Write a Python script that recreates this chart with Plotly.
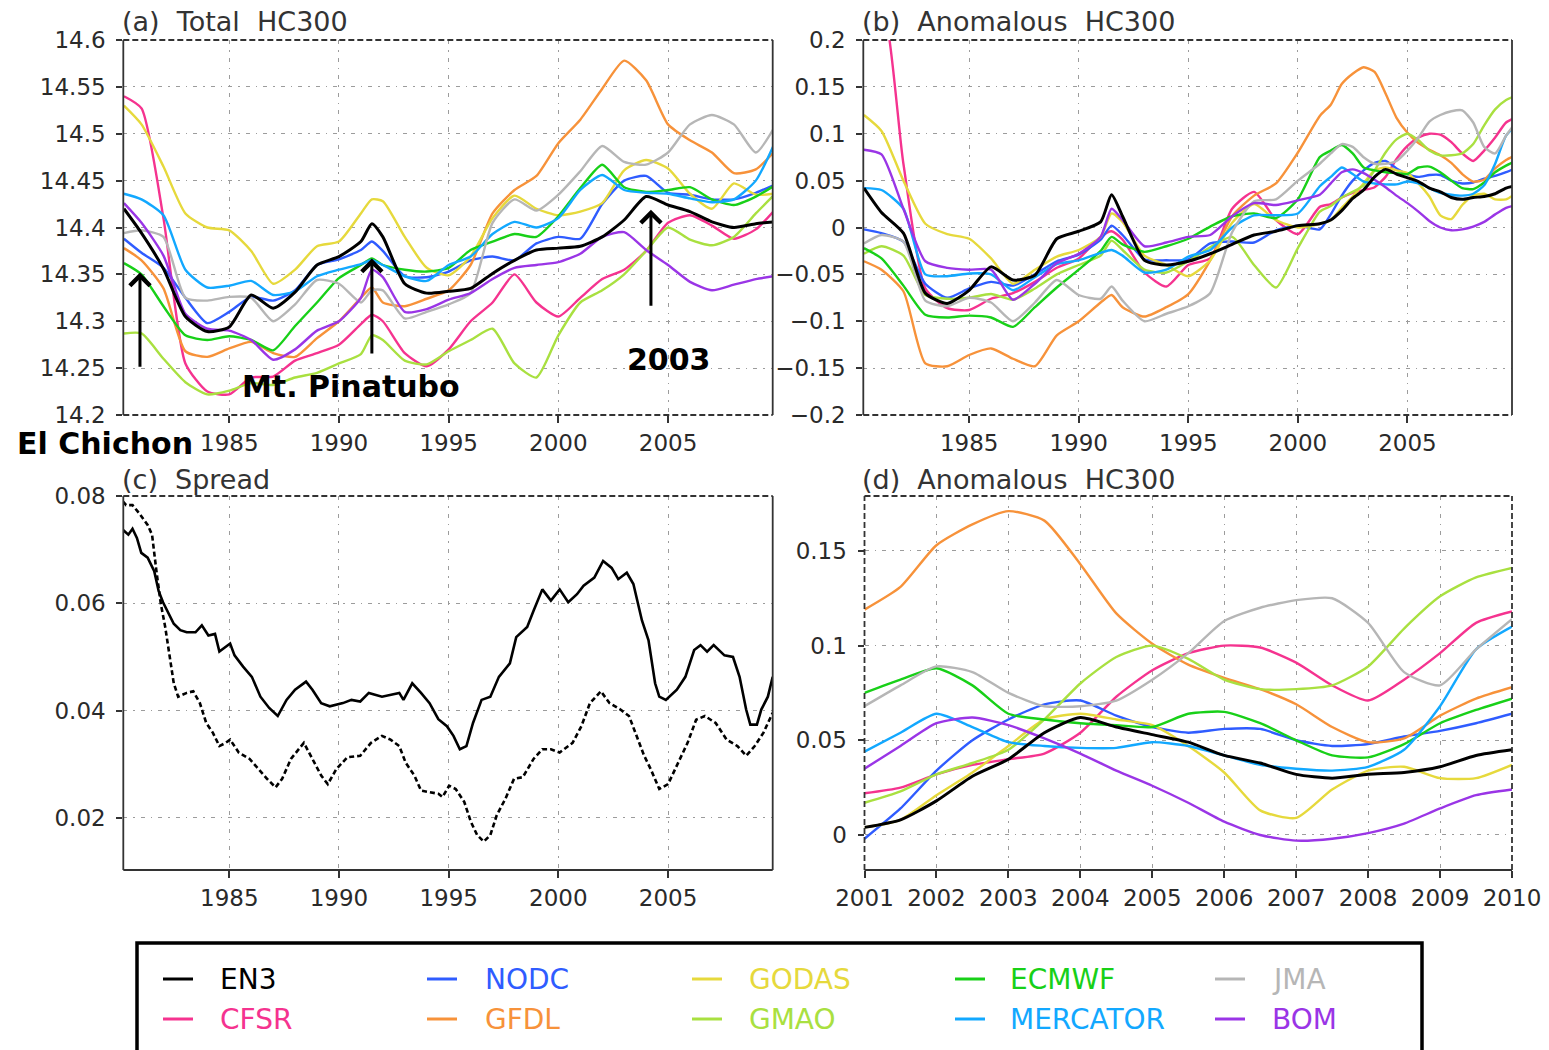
import plotly.graph_objects as go

# ---------------- data ----------------
PRODUCTS = ["EN3", "CFSR", "NODC", "GFDL", "GODAS", "GMAO", "ECMWF", "MERCATOR", "JMA", "BOM"]
COLORS = {
    "EN3": "#000000", "CFSR": "#f5338f", "NODC": "#2f5cff", "GFDL": "#f7923a",
    "GODAS": "#e6d93c", "GMAO": "#a9e040", "ECMWF": "#18d018", "MERCATOR": "#12a8ff",
    "JMA": "#b6b6b6", "BOM": "#9a35e6",
}

# (a) Total HC300
YEARS_A = [1980.2, 1981, 1982, 1983, 1984, 1985, 1986, 1987, 1988, 1989, 1990,
           1991, 1991.5, 1992, 1993, 1994, 1995, 1996, 1997, 1998, 1999, 2000,
           2001, 2002, 2003, 2004, 2005, 2006, 2007, 2008, 2009, 2009.8]
TOTAL = {
    "EN3": [14.42, 14.394, 14.356, 14.305, 14.289, 14.294, 14.328, 14.314, 14.331, 14.36, 14.369,
            14.385, 14.404, 14.39, 14.34, 14.33, 14.332, 14.335, 14.351, 14.365, 14.376, 14.378,
            14.38, 14.39, 14.408, 14.433, 14.424, 14.417, 14.406, 14.40, 14.404, 14.406],
    "CFSR": [14.54, 14.527, 14.41, 14.255, 14.225, 14.222, 14.24, 14.241, 14.258, 14.266, 14.275,
             14.297, 14.307, 14.30, 14.266, 14.252, 14.27, 14.30, 14.32, 14.35, 14.32, 14.305,
             14.325, 14.345, 14.355, 14.375, 14.405, 14.413, 14.402, 14.388, 14.398, 14.417],
    "NODC": [14.388, 14.373, 14.357, 14.325, 14.298, 14.31, 14.326, 14.322, 14.333, 14.36, 14.366,
             14.376, 14.385, 14.375, 14.348, 14.347, 14.353, 14.365, 14.369, 14.365, 14.383, 14.39,
             14.388, 14.425, 14.45, 14.455, 14.437, 14.435, 14.43, 14.43, 14.437, 14.445],
    "GFDL": [14.378, 14.365, 14.335, 14.268, 14.262, 14.271, 14.278, 14.266, 14.262, 14.282, 14.30,
             14.325, 14.336, 14.32, 14.316, 14.324, 14.333, 14.36, 14.415, 14.44, 14.455, 14.49,
             14.515, 14.548, 14.578, 14.557, 14.51, 14.493, 14.48, 14.458, 14.462, 14.48],
    "GODAS": [14.53, 14.51, 14.465, 14.415, 14.40, 14.397, 14.375, 14.34, 14.355, 14.38, 14.385,
              14.415, 14.43, 14.428, 14.39, 14.357, 14.349, 14.369, 14.41, 14.434, 14.42, 14.413,
              14.417, 14.426, 14.461, 14.472, 14.463, 14.436, 14.42, 14.447, 14.435, 14.436],
    "GMAO": [14.287, 14.287, 14.26, 14.235, 14.222, 14.226, 14.234, 14.232, 14.24, 14.245, 14.255,
             14.265, 14.285, 14.28, 14.258, 14.254, 14.268, 14.28, 14.292, 14.255, 14.24, 14.285,
             14.32, 14.333, 14.35, 14.375, 14.40, 14.387, 14.381, 14.39, 14.415, 14.434],
    "ECMWF": [14.362, 14.35, 14.316, 14.285, 14.28, 14.284, 14.28, 14.269, 14.295, 14.32, 14.346,
              14.36, 14.367, 14.36, 14.355, 14.353, 14.357, 14.376, 14.385, 14.393, 14.39, 14.412,
              14.442, 14.467, 14.443, 14.438, 14.44, 14.443, 14.43, 14.424, 14.433, 14.444],
    "MERCATOR": [14.436, 14.43, 14.413, 14.355, 14.336, 14.338, 14.343, 14.328, 14.332, 14.348, 14.355,
                 14.361, 14.365, 14.36, 14.348, 14.343, 14.36, 14.369, 14.393, 14.406, 14.40, 14.41,
                 14.44, 14.456, 14.44, 14.437, 14.436, 14.431, 14.427, 14.43, 14.45, 14.487],
    "JMA": [14.394, 14.397, 14.39, 14.325, 14.322, 14.326, 14.325, 14.30, 14.318, 14.344, 14.34,
            14.32, 14.333, 14.333, 14.303, 14.31, 14.318, 14.33, 14.405, 14.43, 14.418, 14.435,
            14.46, 14.487, 14.47, 14.467, 14.48, 14.51, 14.52, 14.51, 14.48, 14.505],
    "BOM": [14.426, 14.405, 14.37, 14.308, 14.292, 14.29, 14.28, 14.259, 14.27, 14.29, 14.30,
            14.325, 14.355, 14.347, 14.31, 14.313, 14.323, 14.33, 14.345, 14.357, 14.36, 14.363,
            14.372, 14.39, 14.395, 14.376, 14.36, 14.342, 14.333, 14.339, 14.345, 14.348],
}

# (b) Anomalous HC300, 1980-2000 part
YEARS_B_EARLY = [1980.2, 1981, 1982, 1983, 1984, 1985, 1986, 1987, 1988, 1989, 1990,
                 1991, 1991.5, 1992, 1993, 1994, 1995, 1996, 1997, 1998, 1999, 2000]
ANOM_EARLY = {
    "EN3": [0.042, 0.016, -0.006, -0.07, -0.081, -0.067, -0.042, -0.056, -0.051, -0.012, -0.004,
            0.006, 0.035, 0.012, -0.035, -0.04, -0.036, -0.028, -0.018, -0.008, -0.004, 0.002],
    "CFSR": [0.25, 0.24, 0.068, -0.065, -0.086, -0.088, -0.076, -0.07, -0.058, -0.043, -0.033,
             -0.01, -0.004, -0.013, -0.048, -0.063, -0.04, -0.033, 0.02, 0.038, 0.008, -0.007],
    "NODC": [-0.002, -0.006, -0.015, -0.06, -0.075, -0.065, -0.058, -0.062, -0.05, -0.036, -0.029,
             -0.013, 0.002, -0.008, -0.034, -0.035, -0.034, -0.017, -0.015, -0.016, -0.003, 0.002],
    "GFDL": [-0.036, -0.045, -0.068, -0.145, -0.148, -0.136, -0.129, -0.14, -0.148, -0.115, -0.1,
             -0.08, -0.072, -0.085, -0.095, -0.085, -0.071, -0.035, 0.012, 0.034, 0.047, 0.08],
    "GODAS": [0.12, 0.103, 0.05, 0.004, -0.007, -0.012, -0.033, -0.06, -0.045, -0.031, -0.024,
              -0.01, 0.015, 0.006, -0.03, -0.04, -0.052, -0.035, 0.005, 0.025, 0.008, 0.0],
    "GMAO": [-0.028, -0.02, -0.03, -0.072, -0.076, -0.075, -0.071, -0.077, -0.065, -0.05, -0.04,
             -0.03, -0.014, -0.024, -0.045, -0.048, -0.036, -0.021, -0.01, -0.04, -0.064, -0.022],
    "ECMWF": [-0.022, -0.033, -0.062, -0.093, -0.096, -0.094, -0.096, -0.106, -0.085, -0.064, -0.045,
              -0.025, -0.01, -0.018, -0.026, -0.02, -0.012, 0.001, 0.012, 0.015, 0.01, 0.03],
    "MERCATOR": [0.042, 0.04, 0.02, -0.05, -0.052, -0.049, -0.05, -0.067, -0.053, -0.039, -0.035,
                 -0.027, -0.024, -0.03, -0.048, -0.045, -0.031, -0.024, 0.0, 0.013, 0.013, 0.015],
    "JMA": [-0.017, -0.008, -0.015, -0.078, -0.084, -0.075, -0.08, -0.1, -0.08, -0.056, -0.072,
            -0.076, -0.063, -0.078, -0.1, -0.092, -0.084, -0.07, -0.005, 0.028, 0.03, 0.05],
    "BOM": [0.083, 0.078, 0.02, -0.036, -0.043, -0.045, -0.045, -0.077, -0.06, -0.038, -0.028,
            -0.01, 0.02, 0.008, -0.02, -0.016, -0.01, -0.008, 0.012, 0.026, 0.024, 0.029],
}

# (d) Anomalous HC300, 2001-2010 (also continues panel b)
YEARS_D = [2001, 2001.5, 2002, 2002.5, 2003, 2003.5, 2004, 2004.5, 2005, 2005.5,
           2006, 2006.5, 2007, 2007.5, 2008, 2008.5, 2009, 2009.5, 2010]
ANOM_LATE = {
    "EN3": [0.004, 0.008, 0.018, 0.031, 0.04, 0.054, 0.062, 0.057, 0.053, 0.049,
            0.042, 0.038, 0.032, 0.03, 0.032, 0.033, 0.036, 0.042, 0.045],
    "CFSR": [0.022, 0.025, 0.032, 0.037, 0.04, 0.043, 0.054, 0.073, 0.087, 0.096,
             0.1, 0.099, 0.091, 0.079, 0.071, 0.082, 0.096, 0.112, 0.118],
    "NODC": [-0.002, 0.014, 0.034, 0.05, 0.061, 0.069, 0.071, 0.063, 0.057, 0.054,
             0.056, 0.056, 0.05, 0.047, 0.048, 0.052, 0.055, 0.059, 0.064],
    "GFDL": [0.119, 0.131, 0.153, 0.164, 0.171, 0.166, 0.143, 0.117, 0.101, 0.09,
             0.083, 0.077, 0.069, 0.057, 0.049, 0.051, 0.063, 0.072, 0.078],
    "GODAS": [0.004, 0.008, 0.021, 0.033, 0.047, 0.061, 0.064, 0.061, 0.058, 0.047,
              0.033, 0.013, 0.009, 0.024, 0.034, 0.036, 0.03, 0.03, 0.037],
    "GMAO": [0.017, 0.023, 0.032, 0.038, 0.045, 0.061, 0.08, 0.094, 0.1, 0.093,
             0.082, 0.077, 0.077, 0.079, 0.089, 0.109, 0.126, 0.136, 0.141],
    "ECMWF": [0.075, 0.082, 0.088, 0.079, 0.064, 0.061, 0.059, 0.058, 0.057, 0.064,
              0.065, 0.059, 0.05, 0.042, 0.041, 0.048, 0.059, 0.066, 0.072],
    "MERCATOR": [0.044, 0.054, 0.064, 0.057, 0.049, 0.047, 0.046, 0.046, 0.049, 0.047,
                 0.042, 0.037, 0.035, 0.034, 0.036, 0.045, 0.068, 0.098, 0.11],
    "JMA": [0.068, 0.079, 0.089, 0.086, 0.075, 0.068, 0.068, 0.071, 0.082, 0.096,
            0.113, 0.12, 0.124, 0.125, 0.112, 0.086, 0.079, 0.098, 0.114],
    "BOM": [0.035, 0.047, 0.059, 0.062, 0.058, 0.051, 0.043, 0.034, 0.026, 0.017,
            0.007, 0.0, -0.003, -0.002, 0.001, 0.006, 0.014, 0.021, 0.024],
}

# (c) Spread
SPREAD_SOLID_YEARS = [1980.15, 1980.4, 1980.59, 1980.79, 1980.99, 1981.28, 1981.58, 1981.78, 1981.98, 1982.17,
                      1982.47, 1982.77, 1983.06, 1983.46, 1983.75, 1984.05, 1984.35, 1984.55, 1984.84, 1985.04,
                      1985.24, 1985.63, 1986.03, 1986.42, 1986.82, 1987.21, 1987.61, 1988.0, 1988.5, 1988.79,
                      1989.19, 1989.58, 1990.18, 1990.57, 1990.97, 1991.36, 1991.96, 1992.75, 1992.94, 1993.34,
                      1993.74, 1994.13, 1994.53, 1994.92, 1995.22, 1995.51, 1995.81, 1996.11, 1996.5, 1996.9,
                      1997.29, 1997.79, 1998.08, 1998.58, 1998.87, 1999.27, 1999.66, 2000.06, 2000.45, 2000.85,
                      2001.15, 2001.64, 2002.04, 2002.43, 2002.73, 2003.12, 2003.42, 2003.81, 2004.11, 2004.41,
                      2004.6, 2004.9, 2005.4, 2005.79, 2006.19, 2006.48, 2006.78, 2007.08, 2007.57, 2007.96,
                      2008.26, 2008.56, 2008.75, 2009.05, 2009.25, 2009.55, 2009.77]
SPREAD_SOLID = [0.0737, 0.0728, 0.0739, 0.0722, 0.0694, 0.0685, 0.066, 0.0623, 0.0602, 0.0586,
                0.0562, 0.055, 0.0546, 0.0546, 0.0559, 0.054, 0.0543, 0.051, 0.0519, 0.0525,
                0.0503, 0.0482, 0.0463, 0.0426, 0.0405, 0.039, 0.042, 0.0439, 0.0454, 0.0439,
                0.0414, 0.0408, 0.0414, 0.042, 0.0417, 0.0433, 0.0426, 0.0433, 0.042, 0.0451,
                0.0433, 0.0414, 0.0384, 0.0371, 0.0353, 0.0328, 0.0334, 0.0377, 0.042, 0.0426,
                0.0463, 0.0488, 0.0537, 0.0556, 0.0586, 0.0626, 0.0605, 0.0626, 0.0602, 0.0617,
                0.0633, 0.0648, 0.0679, 0.0666, 0.0645, 0.0657, 0.0636, 0.0568, 0.0531, 0.0451,
                0.0426, 0.042, 0.0439, 0.0463, 0.0513, 0.0522, 0.051, 0.0522, 0.0503, 0.05,
                0.0463, 0.0402, 0.0374, 0.0374, 0.0402, 0.0426, 0.0463]
SPREAD_DASH_YEARS = [1980.15, 1980.3, 1980.59, 1980.89, 1981.28, 1981.48, 1981.68, 1981.88, 1982.08, 1982.27,
                     1982.47, 1982.67, 1983.06, 1983.36, 1983.66, 1983.95, 1984.25, 1984.55, 1984.84, 1985.04,
                     1985.43, 1985.93, 1986.32, 1986.72, 1987.11, 1987.41, 1987.81, 1988.4, 1988.79, 1989.19,
                     1989.49, 1989.88, 1990.38, 1990.97, 1991.46, 1991.96, 1992.35, 1992.75, 1993.04, 1993.44,
                     1993.74, 1994.13, 1994.53, 1994.72, 1995.02, 1995.32, 1995.71, 1996.01, 1996.3, 1996.6,
                     1996.9, 1997.19, 1997.59, 1997.98, 1998.38, 1998.87, 1999.27, 1999.66, 2000.06, 2000.65,
                     2001.05, 2001.44, 2001.94, 2002.33, 2002.83, 2003.22, 2003.52, 2003.91, 2004.21, 2004.6,
                     2005.0, 2005.4, 2005.89, 2006.28, 2006.68, 2007.17, 2007.67, 2008.16, 2008.56, 2008.95,
                     2009.35, 2009.77]
SPREAD_DASH = [0.079, 0.0783, 0.0783, 0.0768, 0.0746, 0.0728, 0.066, 0.0599, 0.0556, 0.05,
               0.0451, 0.0426, 0.0433, 0.0436, 0.0414, 0.0377, 0.0359, 0.0334, 0.034, 0.0346,
               0.0322, 0.031, 0.0291, 0.0273, 0.0257, 0.0273, 0.031, 0.034, 0.031, 0.0279,
               0.0263, 0.0291, 0.0313, 0.0316, 0.034, 0.0353, 0.0346, 0.0334, 0.0303, 0.0279,
               0.0251, 0.0248, 0.0245, 0.0239, 0.026, 0.0254, 0.023, 0.0193, 0.0168, 0.0156,
               0.0168, 0.0205, 0.0236, 0.0273, 0.0276, 0.031, 0.0328, 0.0328, 0.0322, 0.034,
               0.0371, 0.0414, 0.0436, 0.0414, 0.0402, 0.039, 0.0359, 0.0316, 0.0291, 0.0254,
               0.0263, 0.0297, 0.034, 0.0383, 0.039, 0.0377, 0.0346, 0.0334, 0.0316, 0.0334,
               0.0359, 0.0396]

LEGEND_ROWS = [["EN3", "NODC", "GODAS", "ECMWF", "JMA"],
               ["CFSR", "GFDL", "GMAO", "MERCATOR", "BOM"]]

# ---------------- figure ----------------
W, H = 1549, 1050
FONT = "DejaVu Sans"


def px_x(p):
    return p / W


def px_y(p):
    return 1 - p / H


DOM = {
    "a": ([px_x(123.3), px_x(772.7)], [px_y(415), px_y(40)]),
    "b": ([px_x(863.3), px_x(1512)], [px_y(415), px_y(40)]),
    "c": ([px_x(123.3), px_x(772.7)], [px_y(870), px_y(496)]),
    "d": ([px_x(864.5), px_x(1512)], [px_y(870), px_y(496)]),
}

fig = go.Figure()
order = [p for p in PRODUCTS if p != "EN3"] + ["EN3"]

for p in order:
    w = 3 if p == "EN3" else 2.4
    fig.add_trace(go.Scatter(x=YEARS_A, y=TOTAL[p], mode="lines", name=p,
                             line=dict(color=COLORS[p], width=w, shape="spline", smoothing=0.6),
                             xaxis="x", yaxis="y", showlegend=False))
for p in order:
    w = 3 if p == "EN3" else 2.4
    fig.add_trace(go.Scatter(x=YEARS_B_EARLY + YEARS_D, y=ANOM_EARLY[p] + ANOM_LATE[p], mode="lines", name=p,
                             line=dict(color=COLORS[p], width=w, shape="spline", smoothing=0.6),
                             xaxis="x2", yaxis="y2", showlegend=False))
fig.add_trace(go.Scatter(x=SPREAD_SOLID_YEARS, y=SPREAD_SOLID, mode="lines", name="spread",
                         line=dict(color="black", width=2.6), xaxis="x3", yaxis="y3", showlegend=False))
fig.add_trace(go.Scatter(x=SPREAD_DASH_YEARS, y=SPREAD_DASH, mode="lines", name="spread2",
                         line=dict(color="black", width=2.6, dash="5px,3px"), xaxis="x3", yaxis="y3",
                         showlegend=False))
for p in order:
    w = 3 if p == "EN3" else 2.4
    fig.add_trace(go.Scatter(x=YEARS_D, y=ANOM_LATE[p], mode="lines", name=p,
                             line=dict(color=COLORS[p], width=w, shape="spline", smoothing=0.6),
                             xaxis="x4", yaxis="y4", showlegend=False))

tickfont = dict(family=FONT, size=23, color="#2a2a2a")
GRID = dict(showgrid=True, gridcolor="#9c9c9c", gridwidth=1, griddash="4px,6px,1.5px,6px")


def xax(dom, rng, tick0, dtick, anchor):
    return dict(domain=dom, range=rng, tickmode="linear", tick0=tick0, dtick=dtick,
                ticks="outside", ticklen=7, tickwidth=1.5, tickcolor="#333",
                tickfont=tickfont, ticklabelstandoff=0, anchor=anchor, zeroline=False,
                showline=False, automargin=False, **GRID)


def yax(dom, rng, tick0, dtick, anchor):
    return dict(domain=dom, range=rng, tickmode="linear", tick0=tick0, dtick=dtick,
                ticks="outside", ticklen=6, tickwidth=1.5, tickcolor="#333",
                tickfont=tickfont, ticklabelstandoff=6, anchor=anchor, zeroline=False,
                showline=False, automargin=False, **GRID)


fig.update_layout(
    width=W, height=H, margin=dict(l=0, r=0, t=0, b=0, pad=0), autosize=False,
    paper_bgcolor="white", plot_bgcolor="white",
    xaxis=xax(DOM["a"][0], [1980.17, 2009.77], 1985, 5, "y"),
    yaxis=yax(DOM["a"][1], [14.2, 14.6], 14.2, 0.05, "x"),
    xaxis2=xax(DOM["b"][0], [1980.17, 2009.77], 1985, 5, "y2"),
    yaxis2=yax(DOM["b"][1], [-0.2, 0.2], -0.2, 0.05, "x2"),
    xaxis3=xax(DOM["c"][0], [1980.17, 2009.77], 1985, 5, "y3"),
    yaxis3=yax(DOM["c"][1], [0.0103, 0.08], 0.02, 0.02, "x3"),
    xaxis4=xax(DOM["d"][0], [2001, 2010], 2001, 1, "y4"),
    yaxis4=yax(DOM["d"][1], [-0.0185, 0.179], 0, 0.05, "x4"),
    showlegend=False,
)

shapes = []
annotations = []

# panel frames: (left, bottom, right, top) dash styles
FRAME = {
    "a": ("solid", "dash", "solid", "dash"),
    "b": ("solid", "dash", "solid", "dash"),
    "c": ("solid", "solid", "solid", "dash"),
    "d": ("dash", "solid", "dash", "dash"),
}
for k, (xd, yd) in DOM.items():
    l, b, r, t = FRAME[k]
    x0, x1 = xd
    y0, y1 = yd
    for (xa, ya, xb, yb, ds) in [(x0, y0, x0, y1, l), (x0, y0, x1, y0, b), (x1, y0, x1, y1, r), (x0, y1, x1, y1, t)]:
        shapes.append(dict(type="line", xref="paper", yref="paper", x0=xa, y0=ya, x1=xb, y1=yb,
                           line=dict(color="#333", width=1.8, dash="6px,3px" if ds == "dash" else "solid")))

# panel titles
TITLES = [("(a)  Total  HC300", 120, 22), ("(b)  Anomalous  HC300", 860, 22),
          ("(c)  Spread", 120, 479), ("(d)  Anomalous  HC300", 860, 479)]
for txt, xp, yp in TITLES:
    annotations.append(dict(text=txt, xref="paper", yref="paper", x=px_x(xp), y=px_y(yp),
                            xanchor="left", yanchor="middle", showarrow=False,
                            font=dict(family=FONT, size=27, color="#333")))

# event arrows on panel (a)
EVENTS = [("El Chichon", 1980.93, 14.25, 14.352, 15, 444),
          ("Mt. Pinatubo", 1991.5, 14.264, 14.367, 240, 386),
          ("2003", 2004.22, 14.315, 14.419, 625, 359)]
for label, yr, tail, head, lx, ly in EVENTS:
    annotations.append(dict(x=yr, y=head, ax=yr, ay=tail, xref="x", yref="y", axref="x", ayref="y",
                            showarrow=True, arrowhead=4, arrowsize=1.3, arrowwidth=3, arrowcolor="black",
                            text=""))
    annotations.append(dict(text="<b>%s</b>" % label, xref="paper", yref="paper", x=px_x(lx), y=px_y(ly),
                            xanchor="left", yanchor="middle", showarrow=False,
                            font=dict(family=FONT, size=30, color="black")))

# legend box
shapes.append(dict(type="rect", xref="paper", yref="paper", x0=px_x(137), x1=px_x(1422),
                   y0=-0.05, y1=px_y(943), line=dict(color="black", width=3.5)))
LINE_X = [163, 427, 692, 955, 1215]
TEXT_X = [218, 483, 747, 1008, 1270]
ROW_Y = [979, 1019]
for ri, row in enumerate(LEGEND_ROWS):
    for ci, p in enumerate(row):
        shapes.append(dict(type="line", xref="paper", yref="paper",
                           x0=px_x(LINE_X[ci]), x1=px_x(LINE_X[ci] + 30),
                           y0=px_y(ROW_Y[ri]), y1=px_y(ROW_Y[ri]),
                           line=dict(color=COLORS[p], width=3)))
        annotations.append(dict(text=p, xref="paper", yref="paper", x=px_x(TEXT_X[ci]), y=px_y(ROW_Y[ri]),
                                xanchor="left", yanchor="middle", showarrow=False,
                                font=dict(family=FONT, size=28, color=COLORS[p])))

fig.update_layout(shapes=shapes, annotations=annotations)
fig.write_html("out.html")
